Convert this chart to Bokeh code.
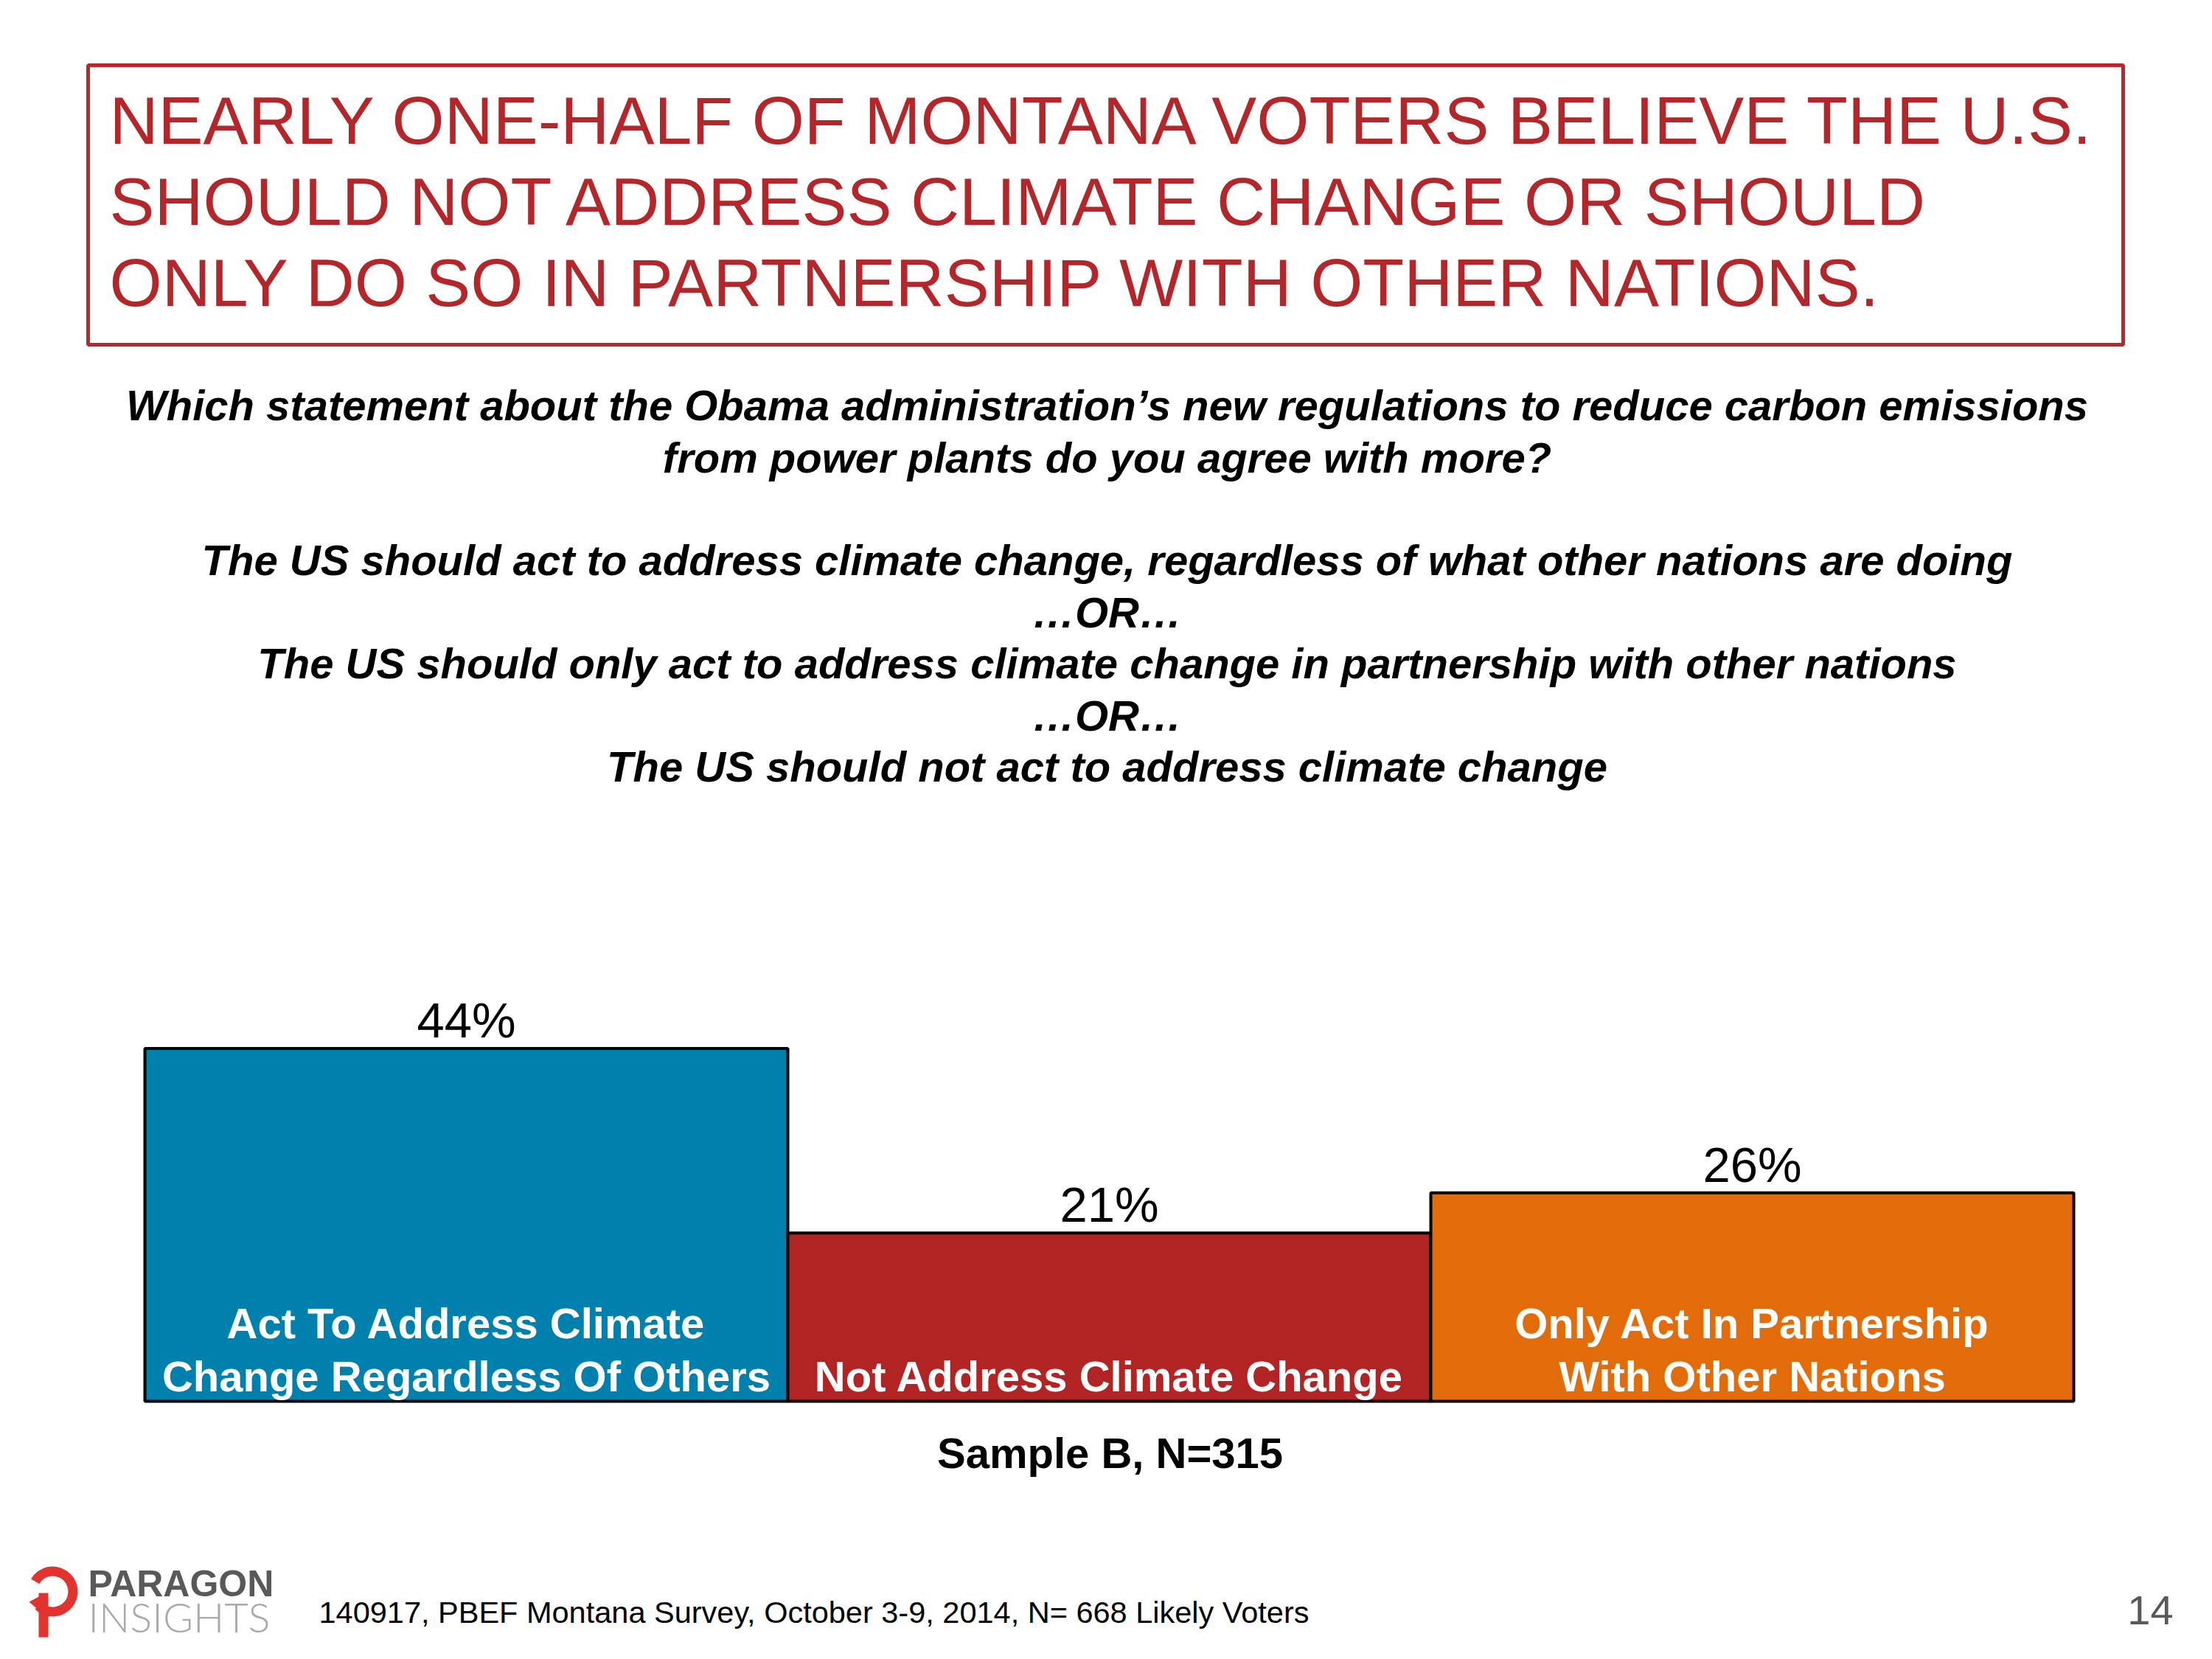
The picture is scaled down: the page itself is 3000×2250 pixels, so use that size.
from bokeh.plotting import figure
from bokeh.models import Range1d, ColumnDataSource
from bokeh.core.properties import value
from bokeh.embed import file_html
from bokeh.resources import INLINE
import math

# ---------------- data ----------------
categories = ["Act To Address Climate Change Regardless Of Others",
              "Not Address Climate Change",
              "Only Act In Partnership With Other Nations"]
label_line1 = ["Act To Address Climate", "", "Only Act In Partnership"]
label_line2 = ["Change Regardless Of Others", "Not Address Climate Change", "With Other Nations"]
values = [44, 21, 26]
value_labels = ["44%", "21%", "26%"]
bar_colors = ["#0080AD", "#B22424", "#E36C0A"]

title_lines = ["NEARLY ONE-HALF OF MONTANA VOTERS BELIEVE THE U.S.",
               "SHOULD NOT ADDRESS CLIMATE CHANGE OR SHOULD",
               "ONLY DO SO IN PARTNERSHIP WITH OTHER NATIONS."]
question_lines = ["Which statement about the Obama administration\u2019s new regulations to reduce carbon emissions",
                  "from power plants do you agree with more?",
                  "The US should act to address climate change, regardless of what other nations are doing",
                  "\u2026OR\u2026",
                  "The US should only act to address climate change in partnership with other nations",
                  "\u2026OR\u2026",
                  "The US should not act to address climate change"]
sample_text = "Sample B, N=315"
footnote = "140917, PBEF Montana Survey, October 3-9, 2014, N= 668 Likely Voters"
page_number = "14"

# ---------------- layout helpers ----------------
W, H = 2984, 2234
OFF = 0
PXU = 872.0      # pixels per bar slot
PYU = 10.875     # pixels per percentage point
XR0 = -0.5 - (196 - OFF) / PXU
XR1 = XR0 + W / PXU
YR0 = -(H - (1900 - OFF)) / PYU
YR1 = YR0 + H / PYU

def fx(X):
    return XR0 + (X - OFF) / PXU

def fy(Y):
    return YR0 + (H - (Y - OFF)) / PYU

FONT = value("Liberation Sans")
RED = "#B3262A"

p = figure(width=W, height=H, output_backend="svg", toolbar_location=None,
           x_range=Range1d(XR0, XR1), y_range=Range1d(YR0, YR1),
           min_border=0, min_border_left=0, min_border_right=0,
           min_border_top=0, min_border_bottom=0)
p.xaxis.visible = False
p.yaxis.visible = False
p.grid.visible = False
p.outline_line_color = None
p.background_fill_color = "white"
p.border_fill_color = "white"

# ---------------- title box ----------------
p.quad(left=[fx(119)], right=[fx(2879)], top=[fy(88)], bottom=[fy(467)],
       fill_color=None, line_color="#B5282C", line_width=5)
p.text(x=[fx(148)] * 3, y=[fy(162), fy(272), fy(382)], text=title_lines,
       text_font=FONT, text_font_size="91.5px", text_color=RED,
       text_align="left", text_baseline="middle")

# ---------------- question ----------------
q_y = [549, 620, 759, 830, 899, 970, 1039]
p.text(x=[fx(1501)] * len(question_lines), y=[fy(v) for v in q_y], text=question_lines,
       text_font=FONT, text_font_size="58px", text_font_style="bold italic",
       text_color="black", text_align="center", text_baseline="middle")

# ---------------- bars ----------------
xs = list(range(len(categories)))
src = ColumnDataSource(dict(x=xs, top=values, color=bar_colors, lab=value_labels,
                            l1=label_line1, l2=label_line2, zero=[0] * len(xs)))
p.vbar(x="x", top="top", bottom=0, width=1.0, source=src,
       fill_color="color", line_color="black", line_width=4)
p.text(x="x", y="top", text="lab", source=src, y_offset=-38.5,
       text_font=FONT, text_font_size="67px", text_color="black",
       text_align="center", text_baseline="middle")
p.text(x="x", y="zero", text="l2", source=src, y_offset=-34.5,
       text_font=FONT, text_font_size="58px", text_font_style="bold", text_color="white",
       text_align="center", text_baseline="middle")
p.text(x="x", y="zero", text="l1", source=src, y_offset=-106,
       text_font=FONT, text_font_size="58px", text_font_style="bold", text_color="white",
       text_align="center", text_baseline="middle")

# ---------------- sample / footnote ----------------
p.text(x=[fx(1505)], y=[fy(1970)], text=[sample_text],
       text_font=FONT, text_font_size="58px", text_font_style="bold", text_color="black",
       text_align="center", text_baseline="middle")
p.text(x=[fx(432)], y=[fy(2186)], text=[footnote],
       text_font=FONT, text_font_size="41.5px", text_color="black",
       text_align="left", text_baseline="middle")
p.text(x=[fx(2916)], y=[fy(2183)], text=[page_number],
       text_font=FONT, text_font_size="56px", text_color="#595959",
       text_align="center", text_baseline="middle")

# ---------------- logo ----------------
LOGO_RED = "#E2332E"
p.annular_wedge(x=[fx(71)], y=[fy(2158)], inner_radius=21, outer_radius=34,
                inner_radius_units="screen", outer_radius_units="screen",
                start_angle=math.radians(-135), end_angle=math.radians(150),
                fill_color=LOGO_RED, line_color=None)
p.quad(left=[fx(52)], right=[fx(65)], top=[fy(2160)], bottom=[fy(2220)],
       fill_color=LOGO_RED, line_color=None)
p.patch(x=[fx(39), fx(54), fx(54)], y=[fy(2172), fy(2164), fy(2185)],
        fill_color=LOGO_RED, line_color=None)
p.text(x=[fx(119)], y=[fy(2147)], text=["PARAGON"],
       text_font=FONT, text_font_size="50px", text_font_style="bold", text_color="#58595B",
       text_align="left", text_baseline="middle")
p.text(x=[fx(119)], y=[fy(2192)], text=["INSIGHTS"],
       text_font=value("Lato Light, Lato, Liberation Sans"), text_font_size="56px",
       text_color="#A7A9AC", text_align="left", text_baseline="middle")

open("out.html", "w").write(file_html(p, INLINE))
